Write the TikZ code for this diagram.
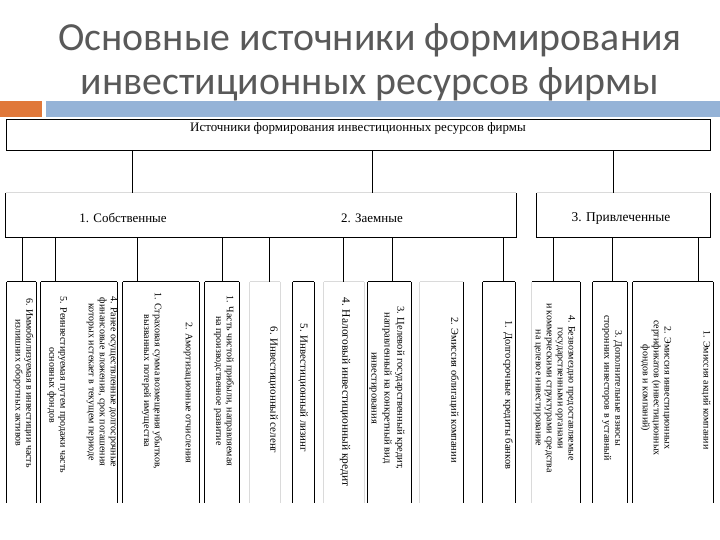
\documentclass[tikz,border=0pt]{standalone}
\usepackage{fontspec}
\setmainfont{Liberation Serif}
\newfontfamily\titlefont{Carlito}
\usetikzlibrary{positioning}
\definecolor{titlegray}{HTML}{595959}
\definecolor{barorange}{HTML}{E0783A}
\definecolor{barblue}{HTML}{95B3D7}
\definecolor{ghost}{HTML}{DADADA}

\begin{document}
\begin{tikzpicture}[x=1bp,y=-1bp,
  edge/.style={draw=black,line width=0.8bp},
  ghostedge/.style={draw=ghost,line width=0.8bp},
  col/.style={inner sep=0pt,minimum height=221bp},
  head/.style={font=\fontsize{13}{15}\selectfont,inner sep=0pt},
  vtext/.style={rotate=-90,align=center,inner sep=0pt,font=\fontsize{10}{11}\selectfont},
  vbig/.style={vtext,font=\fontsize{11}{12}\selectfont}]
\useasboundingbox (0,0) rectangle (720,540);
% titolo
\node[font=\titlefont\fontsize{40}{44}\selectfont,text=titlegray,align=center] (title) at (370,62)
  {Основные источники формирования\\инвестиционных ресурсов фирмы};
\fill[barorange] (0,101) rectangle (42,117);
\fill[barblue] (46,101) rectangle (720,117);
% livello 1
\node[edge,minimum width=704bp,minimum height=31bp,inner sep=0pt] (root) at (358,134.5) {};
\node[font=\fontsize{13}{15}\selectfont,inner sep=0pt,below=4bp of root.north] (roottext)
  {Источники формирования инвестиционных ресурсов фирмы};
% livello 2
\node[minimum width=510bp,minimum height=44bp,inner sep=0pt] (own) at (261,215) {};
\node[minimum width=173bp,minimum height=44bp,inner sep=0pt] (attr) at (623.5,215) {};
\node[head] (ownt) at (123,218) {1. Собственные};
\node[head] (borrt) at (372,218) {2. Заемные};
\node[head,font=\fontsize{13.5}{15}\selectfont] (attrt) at (621,218) {3. Привлеченные};
\foreach \nd in {own,attr}{
  \draw[ghostedge] (\nd.north west) -- (\nd.north east);
  \draw[edge] (\nd.north west) -- (\nd.south west) -- (\nd.south east) -- (\nd.north east);
}
\foreach \nm/\xc/\nd in {r1/132/own,r2/372/own,r3/613/attr}{
  \coordinate (k\nm) at (\xc,0);
  \draw[edge] (root.south -| k\nm) -- (\nd.north -| k\nm);
}
% livello 3: colonne
\foreach \nm/\xl/\xr/\sl/\st/\sr in {
  a/7/36/edge/edge/edge, b/41/117/edge/edge/edge, c/123/199/edge/edge/edge,
  d/205/239/edge/edge/edge, e/250/280/ghostedge/ghostedge/ghostedge,
  f/293/314/edge/edge/edge, g/324/364/ghostedge/ghostedge/ghostedge,
  h/368/411/edge/edge/edge, i/420/463/ghostedge/ghostedge/edge,
  j/483/515/edge/edge/edge, k/532/580/ghostedge/edge/edge,
  l/593/627/edge/edge/edge, m/633/713/edge/edge/edge}{
  \node[col,minimum width={(\xr-\xl)*1bp}] (b\nm) at ({(\xl+\xr)/2},392.5) {};
  \draw[\sl] (b\nm.north west) -- (b\nm.south west);
  \draw[\st] (b\nm.north west) -- (b\nm.north east);
  \draw[\sr] (b\nm.north east) -- (b\nm.south east);
}
\foreach \nm/\xc/\nd in {a/22/own,b/55/own,c/137/own,d/222/own,e/269/own,g/343/own,
  h/392/own,j/503/own,k/553/attr,l/612/attr,m/698/attr}{
  \coordinate (k\nm) at (\xc,0);
  \draw[edge] (\nd.south -| k\nm) -- (b\nm.north -| k\nm);
}
% testi verticali
\node[vtext] (ta) at (23.5,383) {6. Иммобилизуемая в инвестиции часть\\излишних оборотных активов};
\node[vtext] (tb1) at (102,382) {4. Ранее осуществленные долгосрочные\\финансовые вложения, срок погашения\\которых истекает в текущем периоде};
\node[vtext] (tb2) at (57,385) {5. Реинвестируемая путем продажи часть\\основных фондов};
\node[vtext] (tc2) at (188,393) {2. Амортизационные отчисления};
\node[vtext] (tc1) at (152,381) {1. Страховая сумма возмещения убытков,\\вызванных потерей имущества};
\node[vtext] (td) at (224,381) {1. Часть чистой прибыли, направляемая\\на производственное развитие};
\node[vbig] (te) at (273,390) {6. Инвестиционный селенг};
\node[vbig] (tf) at (303,388) {5. Инвестиционный лизинг};
\node[vbig,font=\fontsize{11.5}{12}\selectfont] (tg) at (345,392) {4. Налоговый инвестиционный кредит};
\node[vtext,font=\fontsize{10.5}{13}\selectfont] (th) at (387,388) {3. Целевой государственный кредит,\\направленный на конкретный вид\\инвестирования};
\node[vtext,font=\fontsize{10.5}{11}\selectfont] (ti) at (454,390) {2. Эмиссия облигаций компании};
\node[vtext,font=\fontsize{10.5}{11}\selectfont] (tj) at (508,395) {1. Долгосрочные кредиты банков};
\node[vtext] (tk) at (554.5,388) {4. Безвозмездно предоставляемые\\государственными органами\\и коммерческими структурами средства\\на целевое инвестирование};
\node[vtext] (tl) at (612,388) {3. Дополнительные взносы\\сторонних инвесторов в уставный};
\node[vtext] (tm1) at (706,390) {1. Эмиссия акций компании};
\node[vtext] (tm2) at (656,388) {2. Эмиссия инвестиционных\\сертификатов (инвестиционных\\фондов и компаний)};
\end{tikzpicture}
\end{document}
